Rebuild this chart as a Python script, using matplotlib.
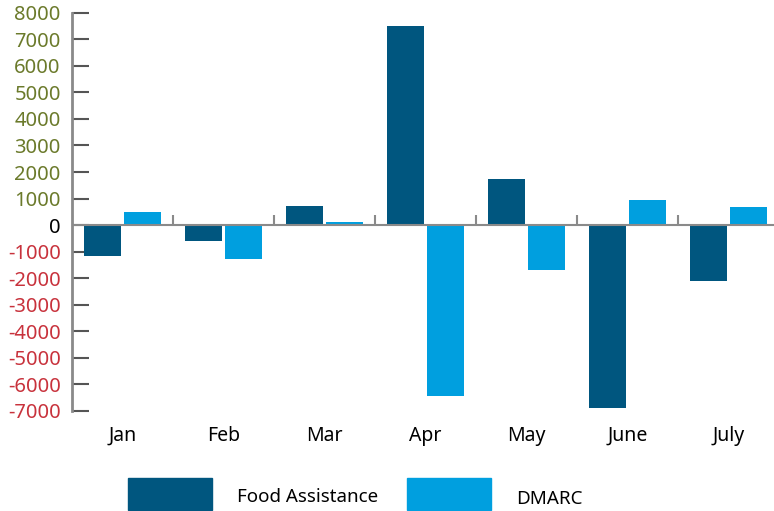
import matplotlib
matplotlib.use('Agg')
import matplotlib.pyplot as plt
import matplotlib.patches as mpatches
import numpy as np

months = ['Jan', 'Feb', 'Mar', 'Apr', 'May', 'June', 'July']
food_assistance = [-1170, -600, 720, 7510, 1740, -6900, -2110]
dmarc = [490, -1280, 110, -6450, -1700, 940, 680]
yticks = list(range(-7000, 8001, 1000))

DARK = '#00567f'
LIGHT = '#009fdf'
POS = '#6b7a2b'
NEG = '#c8323c'
AXIS = '#8a8a8a'

plt.rcParams['font.family'] = ['Noto Sans', 'DejaVu Sans']

fig = plt.figure(figsize=(7.74, 5.11), dpi=100)
ax = fig.add_axes([0.093, 0.196, 0.907, 0.779])

x = np.arange(len(months))
w = 0.366
ax.bar(x - 0.2, food_assistance, w, color=DARK, zorder=2)
ax.bar(x + 0.2, dmarc, w, color=LIGHT, zorder=2)

ax.set_xlim(-0.5, 6.45)
ax.set_ylim(-7000, 8000)

# zero line and category separators
ax.axhline(0, color=AXIS, lw=1.5, zorder=3)
ax.vlines(np.arange(len(months)) - 0.5, 0, 380, color=AXIS, lw=1.5, zorder=3)

for s in ['top', 'right', 'bottom']:
    ax.spines[s].set_visible(False)
ax.spines['left'].set_color(AXIS)
ax.spines['left'].set_linewidth(2)

ax.set_yticks(yticks)
ax.set_yticklabels([str(v) for v in yticks])
ax.tick_params(axis='y', direction='in', length=12, width=1.5, color='#555555',
               labelsize=14.5, pad=8)
for lab, v in zip(ax.get_yticklabels(), yticks):
    lab.set_color(POS if v > 0 else (NEG if v < 0 else 'black'))

ax.set_xticks(x)
ax.set_xticklabels(months)
ax.tick_params(axis='x', length=0, labelsize=14, pad=11)

# legend
fw, fh = 774, 511
def leg_item(x0, label, color, ty):
    fig.add_artist(mpatches.Rectangle((x0 / fw, 1 - 510 / fh), 84 / fw, 32 / fh,
                                      transform=fig.transFigure, color=color))
    fig.text((x0 + 109) / fw, 1 - ty / fh, label, fontsize=13.5, va='center', ha='left')

leg_item(128, 'Food Assistance', DARK, 497)
leg_item(407, 'DMARC', LIGHT, 499)

fig.savefig('out.png', dpi=100)
